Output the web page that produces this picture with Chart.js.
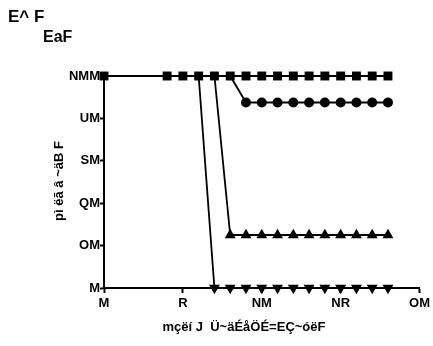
<!DOCTYPE html>
<html><head><meta charset="utf-8">
<script src="https://cdn.jsdelivr.net/npm/chart.js@4"></script>
<style>html,body{margin:0;padding:0;background:#fff}#wrap{width:433px;height:346px}</style>
</head><body><div id="wrap"><canvas id="c" width="433" height="346"></canvas></div>
<script>
const days = [0,4,5,6,7,8,9,10,11,12,13,14,15,16,17,18];
const seriesSquare   = [100,100,100,100,100,100,100,100,100,100,100,100,100,100,100,100];
const seriesCircle   = [100,100,100,100,100,100,87.5,87.5,87.5,87.5,87.5,87.5,87.5,87.5,87.5,87.5];
const seriesTriangle = [100,100,100,100,100,25,25,25,25,25,25,25,25,25,25,25];
const seriesDown     = [100,100,100,100,0,0,0,0,0,0,0,0,0,0,0,0];
const yTickValues = [0,20,40,60,80,100];
const yTickLabels = ["M","OM","QM","SM","UM","NMM"];
const xTickValues = [0,5,10,15,20];
const xTickLabels = ["M","R","NM","NR","OM"];
const titleA = "E^ F";
const titleB = "EaF";
const xTitle = "mçëí J  Ü~äÉåÖÉ=EÇ~óëF";
const yTitle = "pì ëã â ~äB F";

const FONT = "'Liberation Sans', Arial, sans-serif";
function pts(vals){ return days.map((d,i)=>({x:d,y:vals[i]})); }
function hideAt100(r){ return ctx => (ctx.raw && ctx.raw.y === 100) ? 0 : r; }

const titlePlugin = {
  id:'titles',
  afterDraw(chart){
    const c = chart.ctx;
    c.save();
    c.fillStyle = '#000';
    c.font = 'bold 17px ' + FONT;
    c.textBaseline = 'alphabetic';
    c.textAlign = 'left';
    c.fillText(titleA, 8, 22);
    c.font = 'bold 16px ' + FONT;
    c.fillText(titleB, 43, 42);
    c.font = 'bold 13px ' + FONT;
    c.textAlign = 'center';
    c.fillText(xTitle, 244, 331);
    c.translate(63, 181);
    c.rotate(-Math.PI/2);
    c.fillText(yTitle, 0, 0);
    c.restore();
  }
};

const common = {borderColor:'#000', backgroundColor:'#000', borderWidth:1.8, showLine:true, tension:0, clip:false, pointBorderWidth:0, pointHoverRadius:0};

new Chart(document.getElementById('c'), {
  type:'scatter',
  data:{datasets:[
    Object.assign({}, common, {label:'sq', data:pts(seriesSquare), pointStyle:'rect', pointRadius:6.3}),
    Object.assign({}, common, {label:'ci', data:pts(seriesCircle), pointStyle:'circle', pointRadius:hideAt100(5)}),
    Object.assign({}, common, {label:'tr', data:pts(seriesTriangle), pointStyle:'triangle', pointRadius:hideAt100(6.3)}),
    Object.assign({}, common, {label:'dn', data:pts(seriesDown), pointStyle:'triangle', pointRotation:180, pointRadius:hideAt100(6.3)})
  ]},
  options:{
    responsive:false, animation:false, devicePixelRatio:1,
    layout:{padding:{left:0,right:12,top:76,bottom:0}},
    plugins:{legend:{display:false}, tooltip:{enabled:false}},
    scales:{
      x:{type:'linear', min:0, max:20,
        afterBuildTicks(s){ s.ticks = xTickValues.map(v=>({value:v})); },
        afterFit(s){ s.height = 58; },
        grid:{drawOnChartArea:false, drawTicks:true, tickLength:5, tickColor:'#000', tickWidth:2},
        border:{display:true, color:'#000', width:2},
        ticks:{color:'#000', padding:3, maxRotation:0, font:{family:FONT, size:13, weight:'bold'},
          callback:(v)=>{const i=xTickValues.indexOf(v); return i>=0?xTickLabels[i]:'';}}
      },
      y:{type:'linear', min:0, max:100,
        afterBuildTicks(s){ s.ticks = yTickValues.map(v=>({value:v})); },
        afterFit(s){ s.width = 104; },
        grid:{drawOnChartArea:false, drawTicks:true, tickLength:4, tickColor:'#000', tickWidth:2},
        border:{display:true, color:'#000', width:2},
        ticks:{color:'#000', padding:0, font:{family:FONT, size:13, weight:'bold'},
          callback:(v)=>{const i=yTickValues.indexOf(v); return i>=0?yTickLabels[i]:'';}}
      }
    }
  },
  plugins:[titlePlugin]
});
</script></body></html>
